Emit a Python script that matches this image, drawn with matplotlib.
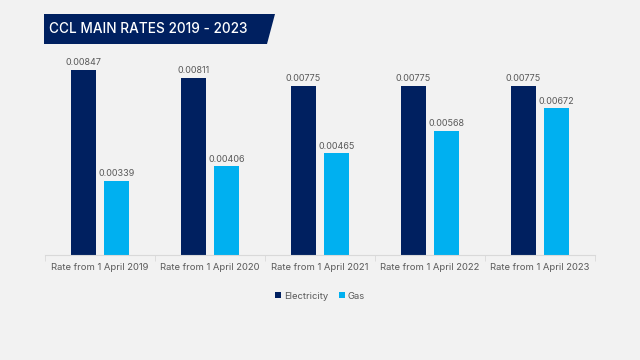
import numpy as np
import matplotlib.pyplot as plt
from matplotlib.patches import Polygon

categories = ["Rate from 1 April 2019", "Rate from 1 April 2020", "Rate from 1 April 2021",
              "Rate from 1 April 2022", "Rate from 1 April 2023"]
electricity = [0.00847, 0.00811, 0.00775, 0.00775, 0.00775]
gas = [0.00339, 0.00406, 0.00465, 0.00568, 0.00672]

navy = "#002060"
blue = "#00b0f0"
bg = "#f2f2f2"
grey = "#595959"

plt.rcParams['font.family'] = ['Inter', 'DejaVu Sans']

fig = plt.figure(figsize=(6.4, 3.6), dpi=100, facecolor=bg)
ax = fig.add_axes([45 / 640, 1 - 255 / 360, 550 / 640, 195 / 360])
ax.set_facecolor(bg)

x = np.arange(len(categories))
w = 0.236
b1 = ax.bar(x - 0.15, electricity, w, color=navy, label="Electricity")
b2 = ax.bar(x + 0.15, gas, w, color=blue, label="Gas")

# value labels above each bar
for bars, vals in [(b1, electricity), (b2, gas)]:
    for b, v in zip(bars, vals):
        ax.text(b.get_x() + b.get_width() / 2, v + 0.00012, f"{v:.5f}",
                ha="center", va="bottom", fontsize=6.5, color=grey)

ax.set_xlim(-0.5, len(categories) - 0.5)
ax.set_ylim(0, 195 / 21842)
ax.set_yticks([])
ax.set_xticks(x)
ax.set_xticklabels(categories, fontsize=6.8, color=grey)
ax.set_xticks(np.arange(len(categories) + 1) - 0.5, minor=True)
ax.tick_params(axis="x", which="major", length=0, pad=6)
ax.tick_params(axis="x", which="minor", length=4, color="#d9d9d9")
for s in ["top", "left", "right"]:
    ax.spines[s].set_visible(False)
ax.spines["bottom"].set_color("#d9d9d9")

ax.legend(loc="upper center", bbox_to_anchor=(0.5, -0.145), ncol=2, frameon=False,
          fontsize=6.8, labelcolor=grey, handlelength=0.6, handleheight=0.6,
          handletextpad=0.3, columnspacing=1.2)

# title banner
W, H = 640, 360
pts = [(44 / W, 1 - 14 / H), (275 / W, 1 - 14 / H), (267 / W, 1 - 44 / H), (44 / W, 1 - 44 / H)]
fig.patches.append(Polygon(pts, closed=True, transform=fig.transFigure, facecolor=navy, edgecolor="none"))
fig.text(49 / W, 1 - 29 / H, "CCL MAIN RATES 2019 - 2023", color="white", fontsize=9.8,
         fontweight="medium", va="center", ha="left")

fig.savefig("out.png", dpi=100, facecolor=bg)
